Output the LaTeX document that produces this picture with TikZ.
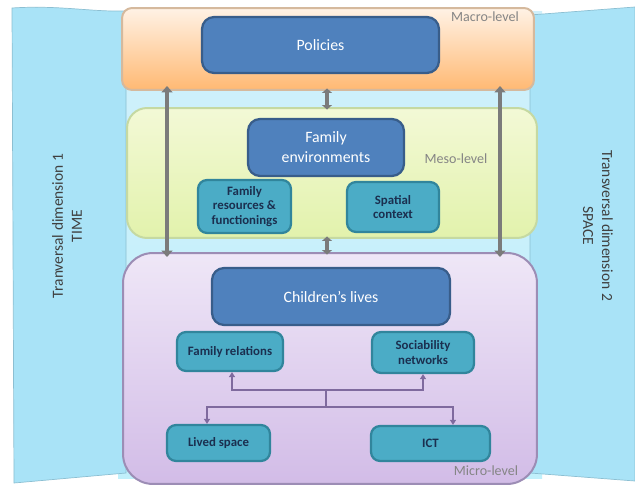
\documentclass[tikz,border=0pt]{standalone}
\usepackage{fontspec}
\setmainfont{Carlito}
\usetikzlibrary{arrows.meta}
\definecolor{skyblue}{HTML}{A9E3F7}
\definecolor{skyline}{HTML}{8CBFD2}
\definecolor{boxblue}{HTML}{4F81BD}
\definecolor{boxblueline}{HTML}{385D8A}
\definecolor{boxteal}{HTML}{4BACC6}
\definecolor{boxtealline}{HTML}{31859C}
\definecolor{tealtext}{HTML}{1B2F4F}
\definecolor{arrowgrey}{HTML}{7B7B7B}
\definecolor{linkpurple}{HTML}{7F6A9E}
\definecolor{labelgrey}{HTML}{858585}
\definecolor{microtop}{HTML}{EFE7F7}
\definecolor{microbottom}{HTML}{D2BCE7}
\definecolor{microline}{HTML}{9C8DB5}
\definecolor{mesotop}{HTML}{F3F9D6}
\definecolor{mesobottom}{HTML}{E2F2AC}
\definecolor{mesoline}{HTML}{C5D9A2}
\begin{document}
\begin{tikzpicture}[x=0.02cm,y=-0.02cm,
    levelbox/.style={rounded corners=#1,line width=0.4mm,minimum width=0,minimum height=0},
    mainbox/.style={draw=boxblueline,fill=boxblue,rounded corners=2.4mm,line width=0.45mm,
        text=white,align=center,font=\fontsize{9}{11.4}\selectfont,inner sep=0pt},
    subbox/.style={draw=boxtealline,fill=boxteal,rounded corners=1.8mm,line width=0.45mm,
        text=tealtext,align=center,font=\fontsize{7.3}{8.2}\selectfont\bfseries,inner sep=0pt},
    levellabel/.style={text=labelgrey,font=\fontsize{8}{9}\selectfont,inner sep=0pt},
    sidelabel/.style={text=black!75,align=center,font=\fontsize{8.8}{10.8}\selectfont,inner sep=0pt},
    dimarrow/.style={draw=arrowgrey,line width=0.8mm,
        {Triangle[width=2.2mm,length=1.3mm]}-{Triangle[width=2.2mm,length=1.3mm]}},
    shortarrow/.style={draw=arrowgrey,line width=0.8mm,shorten <=-0.5mm,shorten >=-0.5mm,
        {Triangle[width=2mm,length=0.9mm]}-{Triangle[width=2mm,length=0.9mm]}},
    link/.style={draw=linkpurple,line width=0.3mm,-{Triangle[width=1.2mm,length=1mm]}}]
    \useasboundingbox (0,0) rectangle (635,486);
    %% Background panels
    \fill[top color=white!45!skyblue,bottom color=skyblue!90!cyan!60] (118,12) rectangle (542,478);
    \draw[skyline,fill=skyblue] (12,8) .. controls (60,5) and (90,12) .. (126,11) -- (126,473) -- (14,483) -- cycle;
    \draw[skyline,fill=skyblue] (530,15) -- (635,7) -- (635,481) -- (530,473) -- cycle;
    %% Macro level
    \node[levelbox=2mm,draw=orange!40!gray!55,top color=orange!10,bottom color=orange!55!white,
        minimum width=8.24cm,minimum height=1.64cm] (macro) at (328,49) {};
    \node[mainbox,minimum width=4.74cm,minimum height=1.12cm] (policies) at (320.5,45) {Policies};
    \node[levellabel] (macrolbl) at (485,17) {Macro-level};
    %% Meso level
    \node[levelbox=4mm,draw=mesoline,top color=mesotop,bottom color=mesobottom,
        minimum width=8.2cm,minimum height=2.6cm] (meso) at (332,173) {};
    \node[mainbox,minimum width=3.12cm,minimum height=1.14cm] (famenv) at (326,147.5) {Family\\environments};
    \node[subbox,minimum width=1.86cm,minimum height=1.06cm] (famres) at (244.5,206.5) {Family\\resources \&\\functionings};
    \node[subbox,minimum width=1.84cm,minimum height=1cm] (spatial) at (393,207) {Spatial\\context};
    \node[levellabel] (mesolbl) at (456,159) {Meso-level};
    %% Micro level
    \node[levelbox=6mm,draw=microline,top color=microtop,bottom color=microbottom,
        minimum width=8.28cm,minimum height=4.62cm] (micro) at (330,368.5) {};
    \node[mainbox,minimum width=4.76cm,minimum height=1.14cm] (children) at (331,296.5) {Children's lives};
    \node[subbox,minimum width=2.12cm,minimum height=0.78cm] (famrel) at (230,351.5) {Family relations};
    \node[subbox,minimum width=2.04cm,minimum height=0.82cm] (sociab) at (423,352.5) {Sociability\\networks};
    \node[subbox,minimum width=2.06cm,minimum height=0.72cm] (lived) at (218.5,443) {Lived space};
    \node[subbox,minimum width=2.38cm,minimum height=0.7cm] (ict) at (430.5,443.5) {ICT};
    \node[levellabel] (microlbl) at (486,471) {Micro-level};
    %% Links inside the micro level
    \coordinate (up) at (326,390);
    \coordinate (dn) at (326,407);
    \draw[linkpurple,line width=0.3mm] (up) -- (dn);
    \draw[link] (up) -| ([xshift=0.4mm]famrel.south);
    \draw[link] (up) -| (sociab.south);
    \draw[link] (dn) -| ([xshift=-2.3mm]lived.north);
    \draw[link] (dn) -| ([xshift=4.5mm]ict.north);
    %% Arrows between the levels
    \coordinate (lt) at (167,0);
    \coordinate (md) at (327,0);
    \coordinate (rt) at (500,0);
    \draw[dimarrow,shorten <=-1mm,shorten >=-1mm] (macro.south -| lt) -- (micro.north -| lt);
    \draw[dimarrow,shorten <=-1mm,shorten >=-1mm] (macro.south -| rt) -- (micro.north -| rt);
    \draw[shortarrow] (macro.south -| md) -- (meso.north -| md);
    \draw[shortarrow] (meso.south -| md) -- (micro.north -| md);
    %% Transversal dimensions
    \node[sidelabel,rotate=90] (time) at (67,226) {Tranversal dimension 1\\TIME};
    \node[sidelabel,rotate=-90] (space) at (598,226) {Transversal dimension 2\\SPACE};
\end{tikzpicture}
\end{document}
